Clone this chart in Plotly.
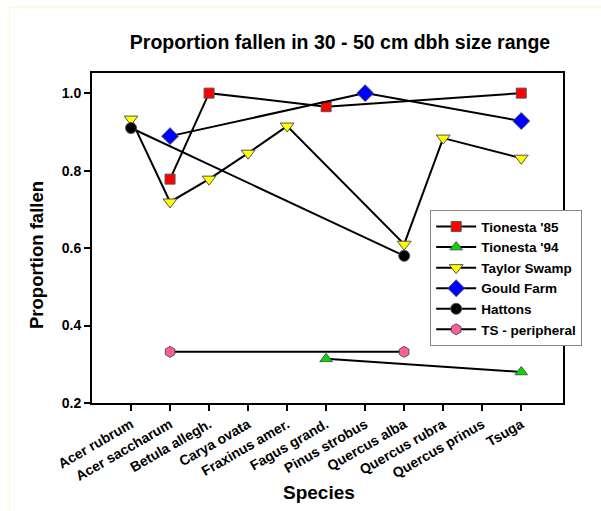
import plotly.graph_objects as go

species = ["Acer rubrum", "Acer saccharum", "Betula allegh.", "Carya ovata",
           "Fraxinus amer.", "Fagus grand.", "Pinus strobus", "Quercus alba",
           "Quercus rubra", "Quercus prinus", "Tsuga"]

tionesta85_x = ["Acer saccharum", "Betula allegh.", "Fagus grand.", "Tsuga"]
tionesta85_y = [0.778, 1.0, 0.965, 1.0]

tionesta94_x = ["Fagus grand.", "Tsuga"]
tionesta94_y = [0.314, 0.28]

taylor_x = ["Acer rubrum", "Acer saccharum", "Betula allegh.", "Carya ovata",
            "Fraxinus amer.", "Quercus alba", "Quercus rubra", "Tsuga"]
taylor_y = [0.933, 0.719, 0.778, 0.845, 0.915, 0.61, 0.884, 0.832]

gould_x = ["Acer saccharum", "Pinus strobus", "Tsuga"]
gould_y = [0.889, 1.0, 0.928]

hattons_x = ["Acer rubrum", "Quercus alba"]
hattons_y = [0.91, 0.58]

tsper_x = ["Acer saccharum", "Quercus alba"]
tsper_y = [0.332, 0.332]

ytick_vals = [0.2, 0.4, 0.6, 0.8, 1.0]

FONT = "Liberation Sans, Arial, sans-serif"
edge = dict(color="#555555", width=1)

fig = go.Figure()
series = [
    ("Tionesta '85", tionesta85_x, tionesta85_y, "square", "#FF0000", 10),
    ("Tionesta '94", tionesta94_x, tionesta94_y, "triangle-up", "#00DD00", 11),
    ("Taylor Swamp", taylor_x, taylor_y, "triangle-down", "#FFFF00", 12),
    ("Gould Farm", gould_x, gould_y, "diamond", "#0000FF", 13),
    ("Hattons", hattons_x, hattons_y, "circle", "#000000", 11),
    ("TS - peripheral", tsper_x, tsper_y, "hexagon", "#FF5C9D", 11),
]
for name, xs, ys, sym, col, sz in series:
    fig.add_trace(go.Scatter(
        x=xs, y=ys, name=name, mode="lines+markers",
        line=dict(color="black", width=2),
        marker=dict(symbol=sym, color=col, size=sz, line=edge),
    ))

fig.update_layout(
    width=601, height=511,
    margin=dict(l=92, r=38, t=73, b=108),
    paper_bgcolor="white", plot_bgcolor="white",
    font=dict(family=FONT, color="black", size=13, weight="bold"),
    title=dict(text="Proportion fallen in 30 - 50 cm dbh size range",
               x=340 / 601, xanchor="center", y=1 - 42 / 511, yanchor="middle",
               font=dict(size=19.5, family=FONT, weight="bold")),
    showlegend=True,
    legend=dict(x=0.718, y=0.584, xanchor="left", yanchor="top",
                bgcolor="white", bordercolor="#888888", borderwidth=1,
                font=dict(size=13.5, family=FONT, weight="bold"),
                tracegroupgap=0, itemwidth=40),
    shapes=[dict(type="rect", xref="paper", yref="paper",
                 x0=-0.175, x1=1.2, y0=-0.4, y1=1.2,
                 line=dict(color="#FFF5CC", width=1), layer="below")],
    annotations=[
        dict(text="Proportion fallen", xref="paper", yref="paper",
             x=-(92 - 36) / 471, y=(403 - 255) / 330, xanchor="center", yanchor="middle",
             textangle=-90, showarrow=False,
             font=dict(size=18.5, family=FONT, weight="bold")),
        dict(text="Species", xref="paper", yref="paper",
             x=(319 - 92) / 471, y=-(492 - 403) / 330, xanchor="center", yanchor="middle",
             showarrow=False,
             font=dict(size=19, family=FONT, weight="bold")),
    ],
)
fig.update_xaxes(
    type="category", categoryorder="array", categoryarray=species,
    range=[-1, 11.07], tickangle=-30,
    showline=True, linecolor="black", linewidth=2, mirror=True,
    ticks="outside", ticklen=6, tickwidth=1.5, tickcolor="black",
    showgrid=False, zeroline=False,
    tickfont=dict(size=14, family=FONT, weight="bold"),
)
fig.update_yaxes(
    range=[0.2, 1.052], tickvals=ytick_vals, tickformat=".1f",
    showline=True, linecolor="black", linewidth=2, mirror=True,
    ticks="outside", ticklen=6, tickwidth=1.5, tickcolor="black",
    showgrid=False, zeroline=False,
    tickfont=dict(size=14, family=FONT, weight="bold"),
)

fig.write_html("out.html")
